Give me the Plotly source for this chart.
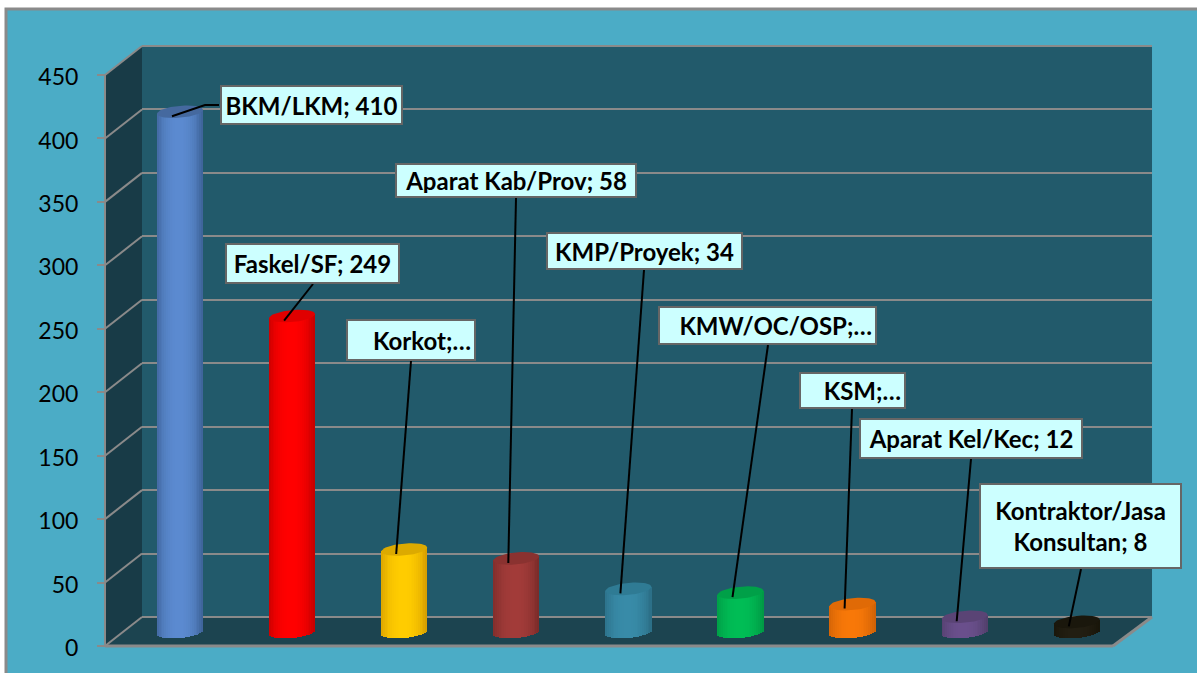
import math
import plotly.graph_objects as go

# ---- data ----
categories = ["BKM/LKM", "Faskel/SF", "Korkot", "Aparat Kab/Prov", "KMP/Proyek",
              "KMW/OC/OSP", "KSM", "Aparat Kel/Kec", "Kontraktor/Jasa Konsultan"]
values = [410, 249, 65, 58, 34, 31, 22, 12, 8]
tick_values = [0, 50, 100, 150, 200, 250, 300, 350, 400, 450]
tick_labels = ["0", "50", "100", "150", "200", "250", "300", "350", "400", "450"]
label_texts = ["BKM/LKM; 410", "Faskel/SF; 249", "Korkot;…", "Aparat Kab/Prov; 58", "KMP/Proyek; 34",
               "KMW/OC/OSP;…", "KSM;…", "Aparat Kel/Kec; 12", "Kontraktor/Jasa<br>Konsultan; 8"]

# ---- styling ----
center_colors = ["#5b8ad0", "#ff0000", "#ffcc00", "#a23b39", "#388ba8", "#00bd55", "#f87808", "#6a4f8c", "#221e12"]
edge_colors = ["#3f659c", "#c80000", "#d8a000", "#7c2c2a", "#2c7088", "#009a45", "#d06206", "#52406c", "#181509"]
cap_colors = ["#45699f", "#e00000", "#dcaa00", "#8a3230", "#2f7b94", "#00a048", "#e06a06", "#5a4475", "#1a170c"]
label_boxes = [(220, 85, 403, 125, "center"), (225, 243, 400, 284, "center"), (346, 319, 476, 361, "right"),
               (395, 163, 637, 198, "center"), (546, 232, 743, 270, "center"), (658, 306, 877, 345, "right"),
               (799, 372, 906, 409, "right"), (859, 418, 1083, 459, "center"), (979, 483, 1182, 569, "center")]
leader_ends = [[(205, 105), (219, 105)], [(313, 284)], [(411, 361)], [(516, 198)], [(644, 270)],
               [(768, 345)], [(852, 409)], [(971, 459)], [(1081, 569)]]

W, H = 1197, 673
GRID = "#8a8a8a"
K = 571 / 450          # pixels per unit
X0, DX = 180.0, 112.1  # pixel of first category, pixels per category
OFF_BAR, OFF_BACK = 14, 29


def px_x(v):
    return (v - X0) / DX


def val_y(py, off):
    return (646 - off - py) / K


def yrange(off):
    return [val_y(H, off), val_y(0, off)]


HALF = 23.0 / DX
CAP_B = 6.0 / K
TILT = 2.0 / K
N = 25


def mix(a, b, s):
    ca = [int(a[i:i + 2], 16) for i in (1, 3, 5)]
    cb = [int(b[i:i + 2], 16) for i in (1, 3, 5)]
    return "rgb(%d,%d,%d)" % tuple(round(p + (q - p) * s) for p, q in zip(ca, cb))


fig = go.Figure()
idx = list(range(len(values)))

# dummies so that the tick axis and back-wall axis exist
fig.add_trace(go.Scatter(x=[0], y=[0], yaxis="y", mode="none", hoverinfo="skip", showlegend=False))
fig.add_trace(go.Scatter(x=[0], y=[0], yaxis="y3", mode="none", hoverinfo="skip", showlegend=False))

# cylinders: a bar per vertical strip, shaded across the width
for j in range(N):
    u = -1 + (2 * j + 1) / N
    low = [TILT * u - CAP_B * math.sqrt(1 - u * u)] * len(values)
    tops = [v + TILT * u for v in values]
    shade = max(0.0, 1 - abs(u + 0.05) ** 2.4)
    fig.add_trace(go.Bar(
        x=[i + u * HALF for i in idx],
        y=[t - b for t, b in zip(tops, low)],
        base=low,
        width=2 * HALF / N * 1.15,
        yaxis="y2",
        marker=dict(color=[mix(e, c, shade) for e, c in zip(edge_colors, center_colors)], line=dict(width=0)),
        hoverinfo="skip",
        showlegend=False,
    ))

# cylinder caps
for i, v in enumerate(values):
    th = [2 * math.pi * t / 60 for t in range(61)]
    fig.add_trace(go.Scatter(
        x=[i + HALF * math.cos(a) for a in th],
        y=[v + TILT * math.cos(a) + CAP_B * math.sin(a) for a in th],
        yaxis="y2", mode="lines", fill="toself", fillcolor=cap_colors[i],
        line=dict(width=0), hoverinfo="skip", showlegend=False,
    ))

# leader lines
for i, v in enumerate(values):
    xs = [i - 8 / DX] + [px_x(p[0]) for p in leader_ends[i]]
    ys = [v - 4.5 / K] + [val_y(p[1], OFF_BAR) for p in leader_ends[i]]
    fig.add_trace(go.Scatter(x=xs, y=ys, yaxis="y2", mode="lines",
                             line=dict(color="#000000", width=2), hoverinfo="skip", showlegend=False))


def fx(p):
    return p / W


def fy(p):
    return 1 - p / H


def poly(pts, fill):
    path = "M " + " L ".join(f"{fx(x):.5f} {fy(y):.5f}" for x, y in pts) + " Z"
    return dict(type="path", xref="paper", yref="paper", path=path, fillcolor=fill,
                line=dict(width=0), layer="below")


def seg(x0, y0, x1, y1, width=2):
    return dict(type="line", xref="paper", yref="paper", x0=fx(x0), y0=fy(y0), x1=fx(x1), y1=fy(y1),
                line=dict(color=GRID, width=width), layer="below")


shapes = [
    dict(type="rect", xref="paper", yref="paper", x0=fx(6), x1=1.01, y0=-0.01, y1=fy(9),
         fillcolor="#4BACC6", line=dict(color=GRID, width=3), layer="below"),
    poly([(142, 46), (1152, 46), (1152, 617), (142, 617)], "#225A6B"),
    poly([(105, 75), (142, 46), (142, 617), (105, 646)], "#183B47"),
    poly([(105, 646), (1113, 646), (1152, 617), (142, 617)], "#1C4450"),
]
for v in tick_values:
    y_front = 646 - v * K
    shapes.append(seg(105, y_front, 142, y_front - OFF_BACK))
shapes += [
    seg(105, 75, 105, 646),
    seg(105, 646, 1113, 646, 3),
    seg(1113, 646, 1152, 617, 3),
]

annotations = []
for text, (x0, y0, x1, y1, al) in zip(label_texts, label_boxes):
    annotations.append(dict(
        xref="paper", yref="paper", x=fx(x0), y=fy(y0), xanchor="left", yanchor="top",
        text=f"<b>{text}</b>", showarrow=False, align=al, valign="middle",
        width=x1 - x0 - 10, height=y1 - y0 - 10,
        bgcolor="#CCFFFF", bordercolor="#666666", borderwidth=2, borderpad=3,
        font=dict(family="Lato, sans-serif", size=24, color="#000000"),
    ))

fig.update_layout(
    width=W, height=H, autosize=False,
    margin=dict(l=0, r=0, t=0, b=0),
    paper_bgcolor="#FFFFFF", plot_bgcolor="rgba(0,0,0,0)",
    barmode="overlay", bargap=0, showlegend=False,
    shapes=shapes, annotations=annotations,
    xaxis=dict(domain=[142 / W, 1152 / W], range=[px_x(142), px_x(1152)], visible=False, fixedrange=True),
    yaxis=dict(domain=[0, 1], range=yrange(0), anchor="free", position=105 / W, side="left",
               tickmode="array", tickvals=tick_values, ticktext=tick_labels,
               ticks="outside", ticklen=8, tickwidth=2, tickcolor=GRID, ticklabelstandoff=14, ticklabelshift=2,
               tickfont=dict(family="Lato, sans-serif", size=23, color="#000000"),
               showgrid=False, zeroline=False, showline=False, automargin=False, fixedrange=True),
    yaxis2=dict(overlaying="y", range=yrange(OFF_BAR), visible=False, fixedrange=True),
    yaxis3=dict(overlaying="y", range=yrange(OFF_BACK), tickmode="array", tickvals=tick_values,
                showticklabels=False, ticks="", showgrid=True, gridcolor=GRID, gridwidth=2,
                zeroline=False, showline=False, fixedrange=True),
    font=dict(family="Lato, sans-serif"),
)

fig.write_html("out.html", config=dict(displayModeBar=False),
               post_script="document.documentElement.style.overflow='hidden';document.body.style.margin='0';")
